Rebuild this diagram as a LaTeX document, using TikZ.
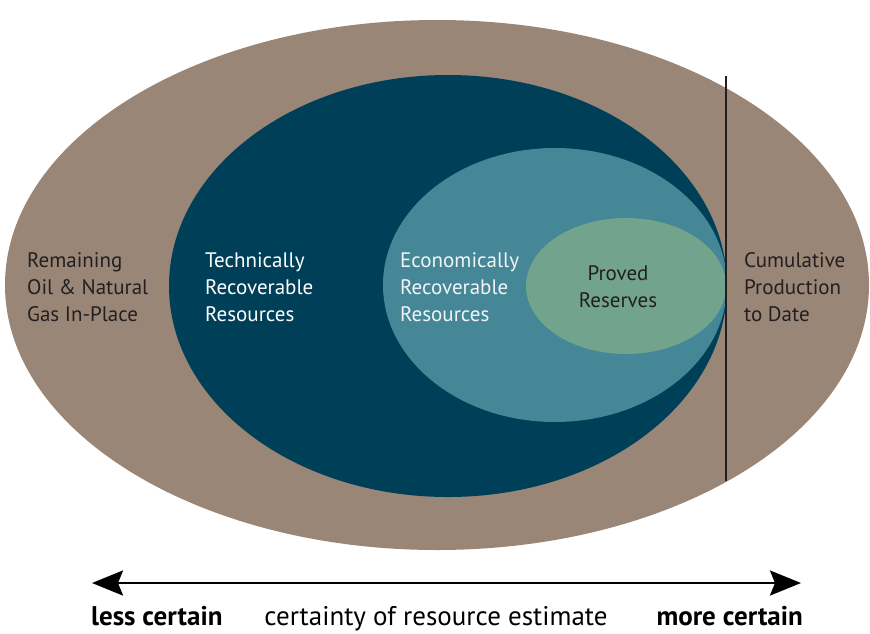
\documentclass[tikz,border=0pt]{standalone}
\usepackage{fontspec}
\setmainfont{PT Sans}
\usetikzlibrary{arrows.meta}
\definecolor{tan}{HTML}{9A8676}
\definecolor{navy}{HTML}{003F58}
\definecolor{teal2}{HTML}{458797}
\definecolor{sage}{HTML}{72A38C}
\definecolor{ink}{HTML}{231F20}
\begin{document}
\begin{tikzpicture}[x=1pt,y=-1pt,
  lbl/.style={font=\fontsize{21}{27}\selectfont, align=left, inner sep=0pt},
  bot/.style={font=\fontsize{27}{30}\selectfont, inner sep=0pt, anchor=base, text=black},
  myhead/.tip={Stealth[length=31pt,width=25pt,inset=5pt]}]
\useasboundingbox[fill=white] (0,0) rectangle (870,633);
\fill[tan] (437,285) ellipse [x radius=432, y radius=265];
\fill[navy] (448,286) ellipse [x radius=279, y radius=211];
\fill[teal2] (555,285) ellipse [x radius=172, y radius=137];
\fill[sage] (626,286) ellipse [x radius=100, y radius=68];
\coordinate (vtop) at (726,76);
\coordinate (vbot) at (726,481);
\draw[ink, line width=1.3pt] (vtop) -- (vbot);
\node[lbl, anchor=west, text=ink] (remain) at (27,287) {Remaining\\Oil \& Natural\\Gas In-Place};
\node[lbl, anchor=west, text=white] (tech) at (205,287) {Technically\\Recoverable\\Resources};
\node[lbl, anchor=west, text=white!92!teal2] (econ) at (400,287) {Economically\\Recoverable\\Resources};
\node[lbl, align=center, text=ink] (proved) at (618,287) {Proved\\Reserves};
\node[lbl, anchor=west, text=ink] (cum) at (744,287) {Cumulative\\Production\\to Date};
\coordinate (aL) at (92,583);
\coordinate (aR) at (801,583);
\draw[black, line width=2.5pt, myhead-myhead] (aL) -- (aR);
\node[bot, font=\fontsize{27}{30}\selectfont\bfseries, anchor=base west] (less) at (91,625) {less certain};
\node[bot, anchor=base] (mid) at (436,625) {certainty of resource estimate};
\node[bot, font=\fontsize{27}{30}\selectfont\bfseries, anchor=base east] (more) at (803,625) {more certain};
\end{tikzpicture}
\end{document}
